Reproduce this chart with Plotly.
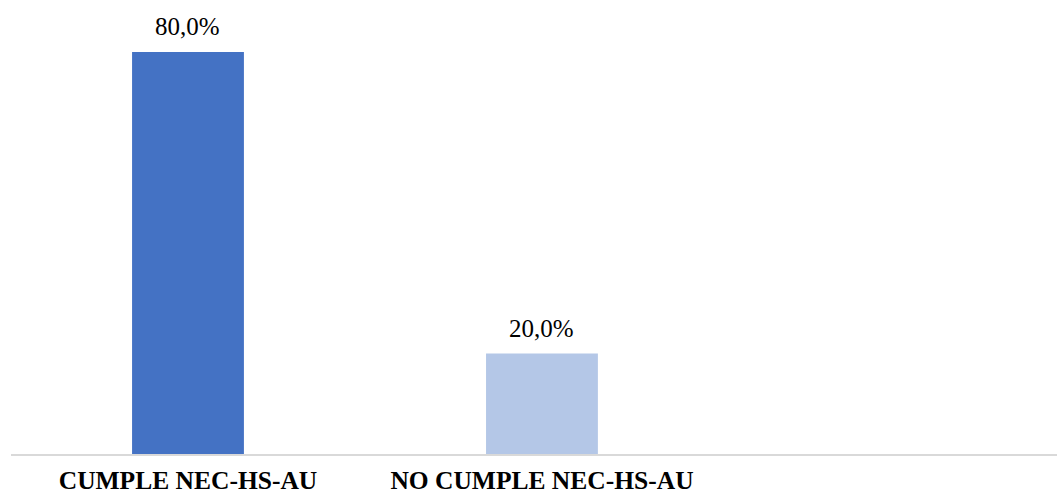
import plotly.graph_objects as go

categories = ["CUMPLE NEC-HS-AU", "NO CUMPLE NEC-HS-AU"]
values = [80.0, 20.0]
bar_colors = ["#4472C4", "#B4C7E7"]

SERIF = "Liberation Serif"

def fmt(v):
    return f"{v:.1f}".replace(".", ",") + "%"

x_pos = list(range(len(categories)))

fig = go.Figure()
fig.add_trace(go.Bar(
    x=x_pos,
    y=values,
    width=0.316,
    marker=dict(color=bar_colors, line=dict(width=0)),
    hoverinfo="skip",
))

for xp, v in zip(x_pos, values):
    fig.add_annotation(
        x=xp, y=v, text=fmt(v), showarrow=False,
        yanchor="bottom", yshift=10,
        font=dict(family=SERIF, size=25, color="#000000"),
    )

fig.update_layout(
    width=1057, height=495,
    margin=dict(l=11, r=0, t=0, b=41),
    paper_bgcolor="white", plot_bgcolor="white",
    showlegend=False,
    font=dict(family=SERIF),
    xaxis=dict(
        range=[-0.5, 2.455],
        tickvals=x_pos, ticktext=["<b>%s</b>" % c for c in categories],
        tickfont=dict(family=SERIF, size=25.5, color="#000000"),
        showline=True, linecolor="#D9D9D9", linewidth=2,
        showgrid=False, zeroline=False, ticks="",
        ticklabelstandoff=2,
        automargin=False,
        fixedrange=True,
    ),
    yaxis=dict(
        range=[0, 90.35],
        visible=False, showgrid=False, zeroline=False,
        fixedrange=True,
    ),
)

fig.write_html("out.html")
